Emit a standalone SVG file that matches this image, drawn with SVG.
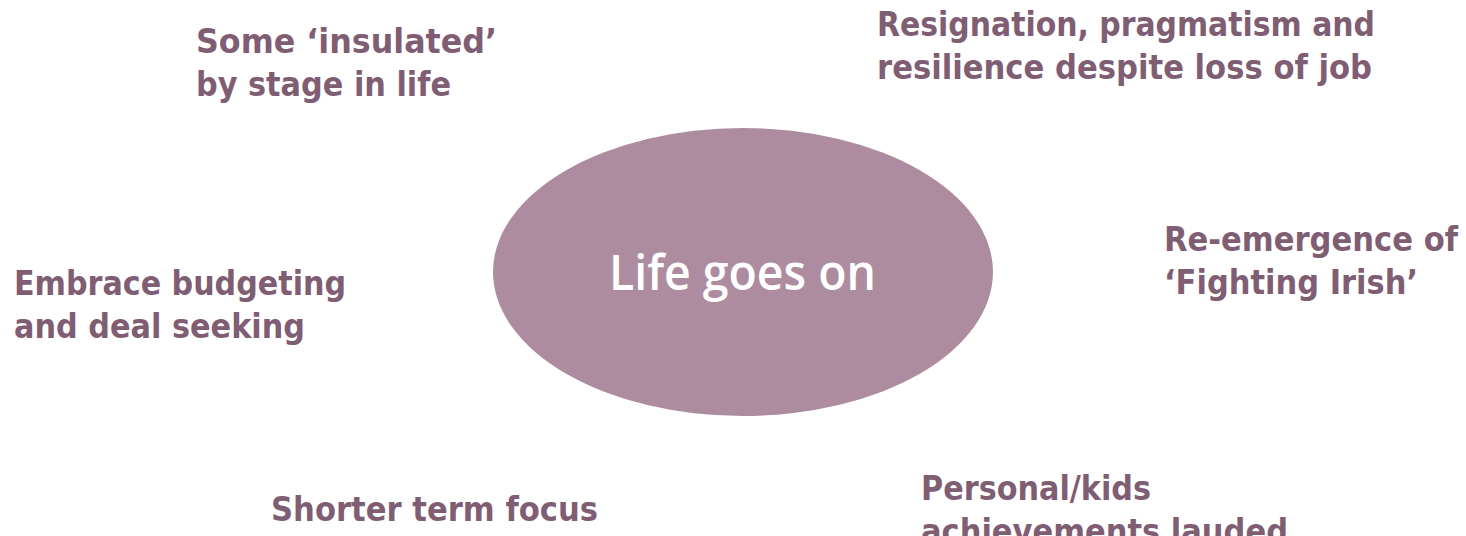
<svg xmlns="http://www.w3.org/2000/svg" width="1466" height="536" viewBox="0 0 1466 536">
<style>
.t{font-family:"DejaVu Sans Condensed","DejaVu Sans",sans-serif;font-weight:bold;font-size:33px;fill:#7f5d73}
.c{font-family:"Open Sans","Noto Sans",sans-serif;font-weight:600;font-size:48px;fill:#ffffff}
</style>
<rect width="1466" height="536" fill="#ffffff"/>
<g id="connectors"></g>
<g id="center">
<ellipse cx="743" cy="272" rx="250" ry="144" fill="#ae8c9f"/>
<text class="c" x="609" y="290" textLength="267" lengthAdjust="spacingAndGlyphs">Life goes on</text>
</g>
<g id="insulated">
<text class="t" x="196" y="53" textLength="301" lengthAdjust="spacingAndGlyphs">Some ‘insulated’</text>
<text class="t" x="196" y="96" textLength="255" lengthAdjust="spacingAndGlyphs">by stage in life</text>
</g>
<g id="resignation">
<text class="t" x="877" y="36" textLength="498" lengthAdjust="spacingAndGlyphs">Resignation, pragmatism and</text>
<text class="t" x="877" y="79" textLength="495" lengthAdjust="spacingAndGlyphs">resilience despite loss of job</text>
</g>
<g id="budgeting">
<text class="t" x="14" y="295" textLength="332" lengthAdjust="spacingAndGlyphs">Embrace budgeting</text>
<text class="t" x="14" y="338" textLength="291" lengthAdjust="spacingAndGlyphs">and deal seeking</text>
</g>
<g id="fighting">
<text class="t" x="1164" y="251" textLength="294" lengthAdjust="spacingAndGlyphs">Re-emergence of</text>
<text class="t" x="1164" y="294" textLength="254" lengthAdjust="spacingAndGlyphs">‘Fighting Irish’</text>
</g>
<g id="achievements">
<text class="t" x="921" y="500" textLength="230" lengthAdjust="spacingAndGlyphs">Personal/kids</text>
<text class="t" x="921" y="543" textLength="367" lengthAdjust="spacingAndGlyphs">achievements lauded</text>
</g>
<g id="shorter">
<text class="t" x="271" y="521" textLength="327" lengthAdjust="spacingAndGlyphs">Shorter term focus</text>
</g>
</svg>
